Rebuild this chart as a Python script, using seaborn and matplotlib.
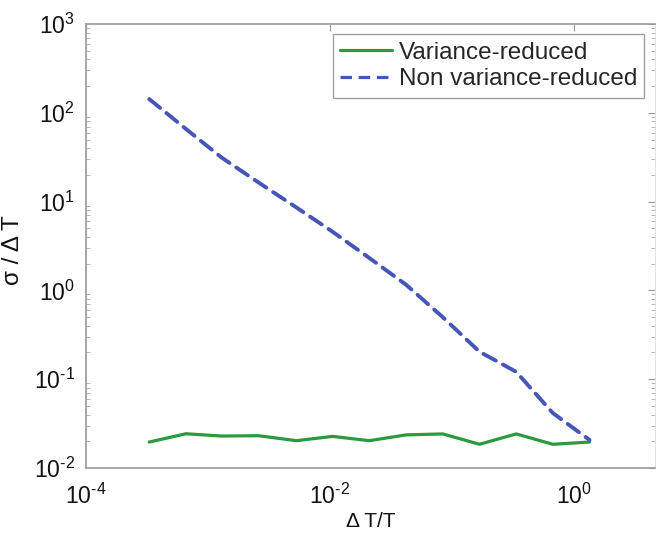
import numpy as np
import pandas as pd
import matplotlib
matplotlib.use("Agg")
import matplotlib.pyplot as plt
import seaborn as sns
from matplotlib.ticker import LogLocator, FixedLocator, NullFormatter

# ---- data ----
dT_over_T = [0.00033, 0.00066, 0.0013, 0.0026, 0.0053, 0.0105, 0.021,
             0.042, 0.084, 0.168, 0.336, 0.67, 1.34]
variance_reduced = [0.0196, 0.0243, 0.0229, 0.0231, 0.0203, 0.0227, 0.0203,
                    0.0236, 0.0242, 0.0185, 0.0242, 0.0185, 0.0196]
non_variance_reduced = [143, 65.8, 31.2, 16.4, 8.6, 4.58, 2.32,
                        1.16, 0.50, 0.204, 0.121, 0.0416, 0.0207]
series_names = ["Variance-reduced", "Non variance-reduced"]
x_tick_values = [1e-4, 1e-2, 1e0]
x_tick_labels = ["$10^{\u2010 4}$", "$10^{\u2010 2}$", "$10^{0}$"]
y_tick_values = [1e-2, 1e-1, 1e0, 1e1, 1e2, 1e3]
y_tick_labels = ["$10^{\u2010 2}$", "$10^{\u2010 1}$", "$10^{0}$", "$10^{1}$",
                 "$10^{2}$", "$10^{3}$"]

sns.set_style("white")
plt.rcParams["font.family"] = ["Liberation Sans", "DejaVu Sans"]
plt.rcParams["mathtext.fontset"] = "custom"
plt.rcParams["mathtext.rm"] = "Liberation Sans"
plt.rcParams["mathtext.it"] = "Liberation Sans"
plt.rcParams["mathtext.sf"] = "Liberation Sans"

df = pd.concat([
    pd.DataFrame({"x": dT_over_T, "y": variance_reduced, "series": series_names[0]}),
    pd.DataFrame({"x": dT_over_T, "y": non_variance_reduced, "series": series_names[1]}),
])

fig = plt.figure(figsize=(6.56, 5.34), dpi=100)
ax = fig.add_axes([0.131, 0.1236, 0.8675, 0.8314])

sns.lineplot(data=df, x="x", y="y", hue="series", style="series",
             palette={series_names[0]: "#2b9a3e", series_names[1]: "#4656b8"},
             dashes={series_names[0]: "", series_names[1]: (3.6, 2.1)},
             ax=ax, legend=True)
for ln, lw in zip(ax.get_lines(), [2.3, 2.8]):
    ln.set_linewidth(lw)
    ln.set_dash_capstyle("round")
    ln.set_solid_capstyle("round")

ax.set_xscale("log")
ax.set_yscale("log")
ax.set_xlim(1e-4, 4.61)
ax.set_ylim(1e-2, 1e3)

ax.xaxis.set_major_locator(FixedLocator(x_tick_values))
ax.xaxis.set_minor_locator(FixedLocator([]))
ax.yaxis.set_major_locator(FixedLocator(y_tick_values))
ax.yaxis.set_minor_locator(LogLocator(base=10, subs=np.arange(2, 10) * 1.0))
ax.yaxis.set_minor_formatter(NullFormatter())
ax.set_xticklabels(x_tick_labels)
ax.set_yticklabels(y_tick_labels)

ax.tick_params(axis="both", which="major", direction="in", length=5, width=0.8,
               color="#999999", labelsize=16.5, labelcolor="#111111",
               top=True, right=True)
ax.tick_params(axis="x", which="major", pad=11)
ax.tick_params(axis="y", which="major", pad=8)
ax.tick_params(axis="y", which="minor", direction="in", length=3, width=0.6,
               color="#aaaaaa", left=True, right=True)

for side in ["left", "bottom", "top"]:
    ax.spines[side].set_color("#9a9a9a")
    ax.spines[side].set_linewidth(1.2)
    ax.spines[side].set_visible(True)
ax.spines["right"].set_color("#dddddd")
ax.spines["right"].set_linewidth(0.6)
ax.spines["right"].set_visible(True)

ax.set_xlabel("Δ T/T", fontsize=15, color="#111111", va="bottom")
ax.xaxis.set_label_coords(0.5, -0.142)
ax.set_ylabel("σ / Δ T", fontsize=17.5, color="#111111")
ax.yaxis.set_label_coords(-0.108, 0.49)

leg = ax.legend(loc="upper right", bbox_to_anchor=(0.99, 0.988), fontsize=17.5,
                frameon=True, fancybox=False, handlelength=2.1,
                borderpad=0.3, labelspacing=0.2, handletextpad=0.3,
                borderaxespad=0.2)
leg.get_frame().set_edgecolor("#888888")
leg.get_frame().set_linewidth(1.0)
for h in leg.get_lines():
    h.set_linewidth(2.3)

fig.savefig("out.png", dpi=100, facecolor="white")
